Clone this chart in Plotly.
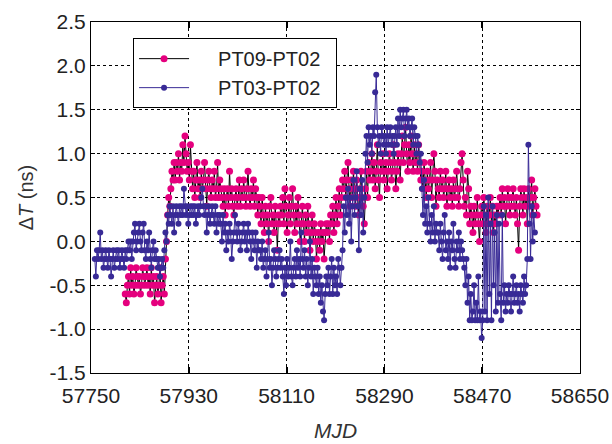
import numpy as np
import plotly.graph_objects as go

# Time-transfer differences, sampled every 2 days (MJD), in ns
pt03_start, pt03_step = 57757, 2
pt03_pt02 = [
    # 57757-57815
    -0.2, -0.4, -0.1, -0.2, -0.1, 0.1, -0.2, -0.1, -0.3, -0.2,
    -0.1, -0.2, -0.3, -0.1, -0.2, -0.4, -0.2, -0.1, -0.3, -0.2,
    -0.1, -0.2, -0.1, -0.3, -0.2, -0.1, -0.2, -0.3, -0.1, -0.2,
    # 57817-57869
    -0.1, 0.0, -0.1, 0.0, -0.2, 0.0, 0.1, 0.2, -0.1, 0.0,
    0.1, 0.2, 0.0, -0.1, 0.1, 0.2, -0.1, -0.2, 0.0, -0.1,
    0.1, -0.2, -0.3, -0.1, 0.0, -0.2, -0.1,
    # 57871-57895
    -0.2, -0.3, -0.2, -0.4, -0.3, -0.2, -0.3,
    -0.1, 0.1, 0.0, 0.3, 0.2, 0.4,
    # 57897-57987
    0.3, 0.2, 0.4, 0.1, 0.3, 0.4, 0.3, 0.2, 0.4, 0.3,
    0.4, 0.3, 0.6, 0.4, 0.3, 0.4, 0.2, 0.3, 0.4, 0.3,
    0.4, 0.3, 0.4, 0.2, 0.3, 0.4, 0.3, 0.4, 0.5, 0.6,
    0.4, 0.3, 0.4, 0.1, 0.3, 0.4, 0.2, 0.3, 0.4, 0.3,
    0.2, 0.4, 0.1, 0.3, 0.2, 0.3,
    # 57989-58059
    0.2, 0.0, 0.3, 0.1, 0.2, -0.1, 0.1, 0.0, 0.2, 0.1,
    -0.2, 0.0, 0.1, 0.3, 0.1, 0.0, 0.2, 0.1, -0.1, 0.0,
    0.1, 0.2, 0.0, 0.1, -0.1, 0.2, 0.1, 0.0, -0.2, 0.1,
    0.0, -0.1, 0.1, -0.3, 0.0, -0.1,
    # 58061-58097
    -0.1, -0.2, 0.0, -0.3, -0.2, -0.1, -0.4, -0.2, 0.1, -0.3,
    -0.2, -0.5, -0.3, -0.1, -0.2, -0.4, -0.3, -0.2, -0.1,
    # 58099-58139
    -0.3, -0.2, -0.4, -0.6, -0.3, -0.5, -0.2, -0.4, -0.3, 0.0,
    -0.4, -0.5, -0.3, -0.2, -0.4, -0.1, -0.3, -0.2, -0.4, 0.1, -0.2,
    # 58141-58183
    -0.3, -0.1, -0.4, -0.2, -0.5, -0.3, 0.0, -0.4, -0.2, -0.6,
    -0.3, -0.4, -0.5, -0.3, -0.6, -0.4, -0.7, -0.5, -0.8, -0.9,
    -0.6, -0.4,
    # 58185-58213
    -0.5, -0.3, -0.6, -0.4, -0.2, -0.6, -0.3, -0.5, -0.4, -0.6,
    -0.2, -0.3, -0.5, -0.3, -0.1,
    # 58215-58253
    0.4, 0.1, 0.5, 0.3, 0.6, 0.2, 0.5, 0.0, 0.4, 0.7,
    0.3, 0.5, 0.8, 0.4, -0.1, 0.6, 0.3, 0.7, 0.1, 0.5,
    # 58255-58357
    1.0, 1.2, 0.9, 1.3, 1.1, 1.2, 1.0, 1.3, 1.2, 1.7,
    1.9, 1.3, 1.1, 1.2, 1.0, 1.3, 1.2, 1.1, 1.2, 1.0,
    1.3, 1.1, 1.2, 1.3, 1.1, 1.2, 1.0, 1.2, 1.3, 1.1,
    1.4, 1.2, 1.5, 1.3, 1.4, 1.5, 1.2, 1.4, 1.5, 1.3,
    1.4, 1.2, 1.3, 1.4, 1.1, 1.3, 1.2, 1.0, 1.2, 1.1,
    0.9, 1.0,
    # 58359-58387
    0.6, 0.3, 0.7, 0.2, 0.4, 0.1, 0.5, 0.2, 0.0, 0.3,
    0.1, 0.4, 0.0, 0.2, 0.1,
    # 58389-58435
    0.1, -0.1, 0.2, 0.0, -0.2, 0.1, 0.3, -0.1, 0.0, -0.2,
    0.1, -0.3, 0.0, -0.1, 0.2, -0.2, -0.3, 0.0, -0.1, 0.1,
    -0.2, 0.0, -0.1, -0.2,
    # 58437-58471
    -0.3, -0.5, -0.2, -0.7, -0.4, -0.9, -0.6, -0.9, -0.8, -0.5,
    -0.9, -0.7, -0.9, -0.4, -0.9, -0.8, -1.1, -0.9,
    # 58473-58497
    0.4, -0.8, 0.3, -0.9, 0.5, -0.6, 0.2, -0.9, 0.4, -0.5,
    0.1, -0.8, 0.3,
    # 58499-58553
    -0.7, 0.2, -0.6, -0.9, 0.3, -0.7, -0.5, -0.8, -0.6, -0.7,
    -0.5, -0.6, -0.8, -0.6, -0.4, -0.7, -0.6, -0.5, -0.7, -0.6,
    -0.8, -0.5, -0.6, -0.7, -0.4, -0.6, -0.5, -0.2,
    # 58555-58567
    1.1, 0.2, -0.2, 0.4, 0.0, 0.3, 0.1,
]

pt09_start, pt09_step = 57813, 2
pt09_pt02 = [
    # 57813-57881
    -0.6, -0.7, -0.5, -0.4, -0.6, -0.3, -0.5, -0.4, -0.6, -0.5,
    -0.3, -0.4, -0.5, -0.4, -0.6, -0.5, -0.3, -0.4, -0.5, -0.4,
    -0.3, -0.5, -0.4, -0.6, -0.3, -0.5, -0.4, -0.7, -0.5, -0.4,
    -0.6, -0.5, -0.3, -0.7, -0.5,
    # 57883-57903
    -0.4, -0.6, -0.2, 0.0, 0.3, 0.5, 0.4, 0.6, 0.8, 0.7, 0.9,
    # 57905-57935
    0.7, 0.9, 0.8, 1.0, 0.7, 0.9, 0.8, 1.1, 0.9, 1.2,
    1.0, 0.8, 0.9, 0.7, 1.1, 0.8,
    # 57937-57989
    0.6, 0.8, 0.5, 0.7, 0.9, 0.6, 0.7, 0.5, 0.8, 0.6,
    0.7, 0.9, 0.6, 0.4, 0.7, 0.8, 0.6, 0.5, 0.7, 0.6,
    0.8, 0.5, 0.6, 0.9, 0.5, 0.7, 0.6,
    # 57991-58059
    0.5, 0.4, 0.6, 0.3, 0.5, 0.6, 0.4, 0.8, 0.5, 0.6,
    0.4, 0.3, 0.5, 0.6, 0.4, 0.5, 0.7, 0.4, 0.6, 0.5,
    0.7, 0.5, 0.4, 0.6, 0.8, 0.5, 0.4, 0.6, 0.5, 0.7,
    0.4, 0.6, 0.5, 0.3, 0.5,
    # 58061-58099
    0.4, 0.2, 0.5, 0.3, 0.1, 0.4, 0.2, 0.3, 0.0, 0.4,
    0.5, 0.2, 0.3, 0.1, 0.4, 0.2, -0.1, 0.3, 0.2, 0.4,
    # 58101-58139
    0.3, 0.5, 0.2, 0.6, 0.4, 0.1, 0.3, 0.5, 0.2, 0.4,
    0.6, 0.3, 0.1, 0.4, 0.2, 0.5, 0.3, 0.0, 0.2, 0.4,
    # 58141-58183
    0.2, 0.0, 0.3, 0.1, 0.4, 0.2, -0.1, 0.1, 0.3, 0.0,
    0.2, 0.1, -0.2, 0.0, 0.1, -0.1, 0.2, 0.0, 0.1, -0.2,
    0.1, 0.2,
    # 58185-58213
    0.1, 0.2, 0.0, 0.3, 0.2, 0.4, 0.1, 0.3, 0.5, 0.2,
    0.4, 0.6, 0.3, 0.5, 0.7,
    # 58215-58253
    0.6, 0.8, 0.5, 0.7, 0.9, 0.6, 0.4, 0.7, 0.5, 0.8,
    0.6, 0.4, 0.7, 0.5, 0.3, 0.6, 0.8, 0.5, 0.4, 0.2,
    # 58255-58357
    0.6, 0.8, 0.5, 0.9, 0.7, 0.8, 1.0, 0.7, 0.9, 0.6,
    0.8, 1.1, 0.7, 0.5, 0.9, 0.8, 1.0, 0.7, 0.8, 0.9,
    0.6, 0.8, 1.0, 0.9, 0.7, 0.8, 1.1, 0.9, 0.6, 0.8,
    1.0, 0.9, 0.7, 1.0, 1.2, 0.9, 1.1, 1.3, 1.0, 0.8,
    1.1, 0.9, 1.2, 1.0, 0.8, 1.1, 0.9, 1.0, 0.8, 1.1,
    0.9, 0.7,
    # 58359-58429
    0.8, 0.6, 0.9, 0.7, 0.5, 0.8, 0.6, 0.7, 0.9, 0.5,
    0.7, 1.0, 0.8, 0.4, 0.7, 0.6, 0.5, 0.8, 0.6, 0.7,
    0.5, 0.6, 0.8, 0.4, 0.6, 0.7, 0.5, 0.6, 0.4, 0.7,
    0.5, 0.6, 0.8, 0.5, 0.4, 0.6,
    # 58431-58435
    0.9, 1.0, 0.7,
    # 58437-58499
    0.4, 0.5, 0.3, 0.8, 0.6, 0.2, 0.4, 0.3, 0.1, 0.4,
    0.2, 0.3, 0.5, 0.2, 0.0, 0.3, 0.4, 0.2, 0.5, 0.3,
    0.1, 0.4, 0.2, 0.3, 0.5, 0.2, 0.4, 0.1, 0.3, 0.2,
    0.4, 0.3,
    # 58501-58571
    0.4, 0.5, 0.3, 0.6, 0.4, 0.5, 0.2, 0.4, 0.6, 0.5,
    0.3, 0.4, 0.5, 0.6, 0.4, 0.3, 0.5, 0.2, -0.1, 0.4,
    0.6, 0.5, 0.3, 0.6, 0.4, 0.5, 0.2, 0.6, 0.4, 0.5,
    0.7, 0.3, 0.5, 0.6, 0.4, 0.3,
]

x_ticks = [57750, 57930, 58110, 58290, 58470, 58650]
y_ticks = [-1.5, -1.0, -0.5, 0.0, 0.5, 1.0, 1.5, 2.0, 2.5]

mjd_pt09 = pt09_start + pt09_step * np.arange(len(pt09_pt02))
mjd_pt03 = pt03_start + pt03_step * np.arange(len(pt03_pt02))

MAGENTA = "#e5007e"
INDIGO = "#382a96"
FONT = "Liberation Sans, Arial, sans-serif"
PAD = "\u2002\u2002\u2009"  # widens the gap between legend symbol and label

fig = go.Figure()
fig.add_trace(go.Scatter(
    x=mjd_pt09, y=pt09_pt02, mode="lines+markers", name=PAD + "PT09-PT02\u2002",
    line=dict(color="black", width=1),
    marker=dict(color=MAGENTA, size=7, line=dict(width=0)),
))
fig.add_trace(go.Scatter(
    x=mjd_pt03, y=pt03_pt02, mode="lines+markers", name=PAD + "PT03-PT02\u2002",
    line=dict(color=INDIGO, width=1),
    marker=dict(color=INDIGO, size=6, line=dict(width=0)),
))

axis_common = dict(
    showline=True, linecolor="black", linewidth=1, mirror="ticks",
    ticks="inside", tickcolor="black",
    showgrid=True, gridcolor="black", gridwidth=1, griddash="dot",
    zeroline=False, automargin=False,
    tickfont=dict(family=FONT, size=21, color="#222222"),
)

fig.update_xaxes(
    range=[57750, 58650], tickvals=x_ticks, ticktext=[str(v) for v in x_ticks],
    ticklen=6, tickwidth=2, ticklabelstandoff=4,
    title=dict(text="<i>MJD</i>", font=dict(family=FONT, size=21, color="#333333"), standoff=17),
    **axis_common,
)
fig.update_yaxes(
    range=[-1.5, 2.5], tickvals=y_ticks, ticktext=[f"{v:.1f}" for v in y_ticks],
    ticklen=4, tickwidth=1,
    title=dict(text="Δ<i>T</i> (ns)", font=dict(family=FONT, size=20, color="#333333"), standoff=10),
    **axis_common,
)

fig.update_layout(
    width=612, height=444,
    margin=dict(l=91, r=32, t=22, b=71),
    plot_bgcolor="white", paper_bgcolor="white",
    showlegend=True,
    legend=dict(
        x=0.086, y=0.954, xanchor="left", yanchor="top",
        bgcolor="white", bordercolor="black", borderwidth=1,
        font=dict(family=FONT, size=20, color="#222222"),
        itemwidth=50, tracegroupgap=0,
    ),
)

fig.write_html("out.html")
